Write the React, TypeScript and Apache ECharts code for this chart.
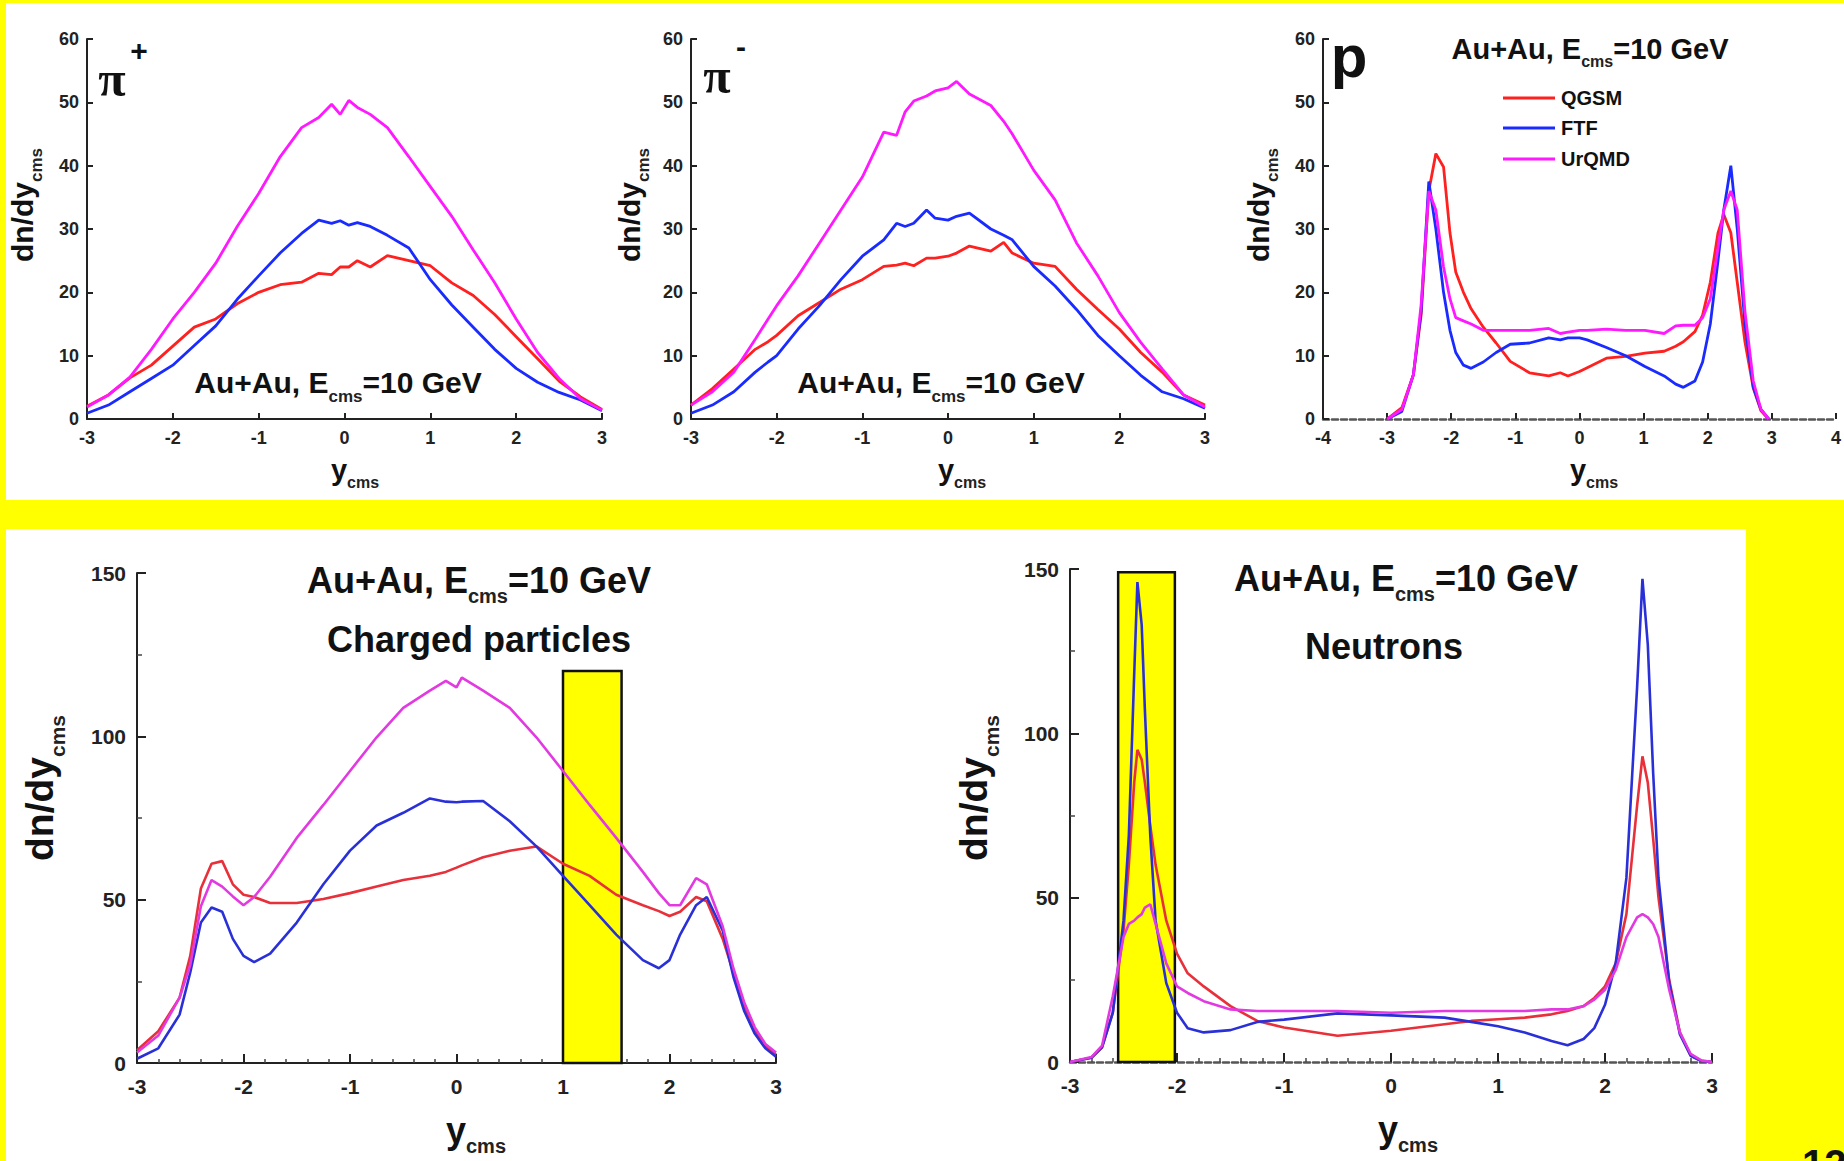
import React, { useEffect, useRef } from "react";
import * as echarts from "echarts";

const FONT = '"Liberation Sans", Arial, sans-serif';
const SERIF = '"Liberation Serif", "DejaVu Serif", serif';

const MODELS = ["QGSM", "FTF", "UrQMD"];

// Panel 1: pi+
const P1X = [-3, -2.75, -2.5, -2.25, -2, -1.75, -1.5, -1.25, -1, -0.75, -0.5, -0.3, -0.15, -0.05, 0.05, 0.15, 0.3, 0.5, 0.75, 1, 1.25, 1.5, 1.75, 2, 2.25, 2.5, 2.75, 3];
const P1_QGSM = [2, 3.8, 6.5, 8.5, 11.5, 14.5, 15.8, 18.2, 20, 21.2, 21.6, 23, 22.8, 24, 24, 25, 24, 25.8, 25, 24.2, 21.5, 19.5, 16.5, 13, 9.5, 6, 3.5, 1.5];
const P1_FTF = [0.9, 2.2, 4.3, 6.4, 8.5, 11.6, 14.7, 18.9, 22.6, 26.2, 29.3, 31.4, 30.9, 31.3, 30.6, 31, 30.4, 29, 27, 22, 18, 14.5, 11, 8, 5.8, 4.2, 3, 1.3];
const P1_URQMD = [1.9, 3.8, 6.6, 11, 15.8, 20, 24.6, 30.4, 35.6, 41.4, 46, 47.6, 49.7, 48.1, 50.3, 49.2, 48.1, 46, 41.4, 36.7, 32, 26.7, 21.5, 15.8, 10.5, 6.4, 3.2, 1.4];

// Panel 2: pi-
const P2X = [-3, -2.75, -2.5, -2.25, -2.1, -2, -1.75, -1.5, -1.25, -1, -0.75, -0.6, -0.5, -0.4, -0.25, -0.15, 0, 0.1, 0.25, 0.5, 0.65, 0.75, 1, 1.25, 1.5, 1.75, 2, 2.25, 2.5, 2.75, 3];
const P2_QGSM = [2.2, 4.8, 7.9, 11, 12.2, 13.2, 16.3, 18.4, 20.5, 22, 24.1, 24.3, 24.6, 24.2, 25.4, 25.4, 25.7, 26.2, 27.3, 26.5, 27.9, 26.2, 24.6, 24.1, 20.5, 17.3, 14.2, 10.5, 7.4, 3.8, 2.2];
const P2_FTF = [0.9, 2.2, 4.3, 7.4, 9, 10, 14.2, 17.9, 22, 25.7, 28.3, 30.9, 30.4, 30.9, 33, 31.7, 31.4, 32, 32.5, 30, 29, 28.3, 24.1, 21, 17.3, 13.2, 10, 6.9, 4.3, 3.2, 1.7];
const P2_URQMD = [2.2, 4.3, 7.4, 12.6, 15.8, 17.9, 22.6, 27.8, 33, 38.2, 45.3, 44.8, 48.5, 50.2, 51, 51.8, 52.3, 53.3, 51.3, 49.5, 47, 45, 39.3, 34.6, 27.8, 22.6, 16.8, 12.1, 7.9, 3.8, 1.9];

// Panel 3: protons
const P3X = [-3, -2.77, -2.59, -2.47, -2.35, -2.24, -2.12, -2.02, -1.93, -1.81, -1.69, -1.5, -1.3, -1.08, -0.78, -0.48, -0.3, -0.18, 0, 0.12, 0.42, 0.72, 1.02, 1.32, 1.5, 1.62, 1.8, 1.92, 2.04, 2.16, 2.25, 2.36, 2.46, 2.58, 2.71, 2.83, 2.95];
const P3_QGSM = [0, 1.8, 7, 16.4, 36, 41.9, 39.8, 29.4, 23.2, 20, 17.4, 14.5, 12, 9.1, 7.3, 6.8, 7.3, 6.8, 7.5, 8.1, 9.6, 9.9, 10.4, 10.7, 11.5, 12.2, 13.8, 16.4, 21.6, 29.4, 32.3, 29.4, 21.6, 12.2, 4.9, 1.3, 0];
const P3_FTF = [0, 1.2, 7, 17, 37.5, 30, 20, 14, 10.5, 8.5, 8, 9, 10.5, 11.8, 12, 12.8, 12.5, 12.8, 12.8, 12.5, 11.3, 10, 8.3, 6.8, 5.5, 5, 6, 9, 15, 25, 33, 40, 30, 15, 5, 1.5, 0];
const P3_URQMD = [0, 1.5, 7, 18, 36, 33, 24, 19, 16, 15.5, 15, 14, 14, 14, 14, 14.3, 13.5, 13.7, 14, 14, 14.2, 14, 14, 13.5, 14.7, 14.8, 14.8, 16, 19, 27, 33, 36, 33, 17, 6, 1.5, 0];

// Panel 4: charged particles
const B1X = [-3, -2.8, -2.6, -2.5, -2.4, -2.3, -2.2, -2.1, -2, -1.9, -1.75, -1.5, -1.25, -1, -0.75, -0.5, -0.25, -0.1, 0, 0.05, 0.25, 0.5, 0.75, 1, 1.25, 1.5, 1.75, 1.9, 2, 2.1, 2.25, 2.35, 2.5, 2.6, 2.7, 2.8, 2.9, 3];
const B1_QGSM = [3.9, 9.7, 20, 32.8, 53.4, 61, 61.8, 54.7, 51.5, 50.8, 49, 49, 50.2, 52, 54, 56, 57.3, 58.5, 59.8, 60.5, 63, 65, 66.3, 61, 57.3, 51.5, 48.3, 46.5, 45, 46.3, 50.8, 49.5, 38, 27.7, 17.4, 9.7, 5.1, 2.6];
const B1_FTF = [1.3, 4.5, 14.8, 27.7, 43, 47.6, 46.3, 38, 32.8, 30.9, 33.5, 43, 54.7, 65, 72.7, 76.6, 81, 80, 79.8, 80, 80.2, 74, 66.3, 57.3, 48.3, 39.3, 31.5, 29, 31.5, 39.3, 48.3, 50.8, 40.5, 26.4, 16, 9, 4.5, 1.9];
const B1_URQMD = [3.2, 8.4, 20, 30, 48, 56, 54, 51, 48.3, 50.8, 57, 68.9, 79, 89.4, 99.7, 108.7, 114, 117, 115, 118, 114, 108.7, 99.7, 89.4, 79, 68.9, 58.5, 52, 48.3, 48.3, 56.6, 54.7, 41.8, 29, 18.7, 11, 5.8, 3.2];
const B1_BOX = [1, 1.55, 0, 120];

// Panel 5: neutrons
const B2X = [-3, -2.8, -2.7, -2.6, -2.5, -2.45, -2.4, -2.37, -2.33, -2.3, -2.25, -2.2, -2.1, -2, -1.9, -1.75, -1.5, -1.25, -1, -0.5, 0, 0.5, 0.75, 1, 1.25, 1.5, 1.65, 1.8, 1.9, 2, 2.1, 2.2, 2.3, 2.35, 2.4, 2.45, 2.5, 2.6, 2.7, 2.8, 2.9, 3];
const B2_QGSM = [0, 1.3, 4.5, 15, 40, 60, 85, 95, 92, 85, 72, 60, 43, 33, 27, 23, 17, 12.5, 10.5, 8, 9.5, 11.5, 12.5, 13, 13.5, 14.5, 15.5, 17, 19.5, 23, 30, 45, 78, 93, 85, 68, 50, 25, 9, 2, 0.3, 0];
const B2_FTF = [0, 1.3, 4.5, 15, 43, 69, 118, 146, 133, 107, 69, 43, 24, 15, 10.3, 9, 9.7, 12.2, 12.9, 14.8, 14.2, 13.5, 12.2, 10.9, 9, 6.4, 5.1, 7, 10.3, 17.4, 30, 56, 114, 147, 127, 88, 56, 24, 8.4, 1.9, 0.3, 0];
const B2_URQMD = [0, 1.5, 5, 20, 38, 42, 43, 44, 45, 47, 48, 42, 30, 23, 21, 18.5, 16, 15.5, 15.5, 15.5, 15, 15.5, 15.5, 15.5, 15.5, 16, 16, 17, 19, 22, 28, 38, 44, 45, 44, 42, 38, 22, 9, 2.5, 0.5, 0];
const B2_BOX = [-2.55, -2.02, 0, 149];

const TOP_COLORS = ["#ff2020", "#1a2bff", "#ff19ff"];
const BOT_COLORS = ["#e8303a", "#2a30d8", "#e23ae0"];

const GRIDS = [
  { left: 87, top: 39, width: 515, height: 380 },
  { left: 691, top: 39, width: 514, height: 380 },
  { left: 1323, top: 39, width: 514, height: 380 },
  { left: 137, top: 573, width: 639, height: 490 },
  { left: 1070, top: 569, width: 642, height: 493 },
];

function pairs(xs: number[], ys: number[]) {
  return xs.map((x, i) => [x, ys[i]]);
}

function lineSeries(name: string, xs: number[], ys: number[], idx: number, color: string, width: number) {
  return {
    type: "line",
    name,
    xAxisIndex: idx,
    yAxisIndex: idx,
    data: pairs(xs, ys),
    symbol: "none",
    showSymbol: false,
    lineStyle: { color, width },
    itemStyle: { color },
    z: 3,
    silent: true,
  };
}

function boxSeries(idx: number, box: number[]) {
  return {
    type: "line",
    xAxisIndex: idx,
    yAxisIndex: idx,
    data: [],
    symbol: "none",
    z: 1,
    silent: true,
    markArea: {
      silent: true,
      itemStyle: { color: "#ffff00", borderColor: "#111", borderWidth: 2.5, opacity: 1 },
      data: [[{ coord: [box[0], box[2]] }, { coord: [box[1], box[3]] }]],
    },
  };
}

function xAxisCfg(idx: number, min: number, max: number, bottom: boolean, dashed: boolean) {
  return {
    gridIndex: idx,
    type: "value",
    min,
    max,
    interval: 1,
    axisLine: {
      show: true,
      onZero: false,
      lineStyle: { color: dashed ? "#555" : "#222", width: dashed ? 2.5 : 2, type: dashed ? [6, 3] : "solid" },
    },
    axisTick: { show: true, inside: true, length: bottom ? 9 : 6, lineStyle: { color: "#222", width: 2 } },
    minorTick: bottom ? { show: true, splitNumber: 5, length: 4, lineStyle: { color: "#444", width: 1.5 } } : { show: false },
    axisLabel: {
      fontSize: bottom ? 21 : 18,
      fontWeight: "bold",
      fontFamily: FONT,
      color: "#222",
      margin: bottom ? 13 : 10,
    },
    splitLine: { show: false },
  };
}

function yAxisCfg(idx: number, max: number, interval: number, bottom: boolean) {
  return {
    gridIndex: idx,
    type: "value",
    min: 0,
    max,
    interval,
    axisLine: { show: true, onZero: false, lineStyle: { color: "#222", width: 2 } },
    axisTick: { show: true, inside: true, length: bottom ? 9 : 6, lineStyle: { color: "#222", width: 2 } },
    minorTick: bottom ? { show: true, splitNumber: 2, length: 5, lineStyle: { color: "#444", width: 1.5 } } : { show: false },
    axisLabel: {
      fontSize: bottom ? 21 : 18,
      fontWeight: "bold",
      fontFamily: FONT,
      color: "#222",
      margin: bottom ? 11 : 8,
    },
    splitLine: { show: false },
  };
}

function richText(parts: [string, boolean][], S: number, x: number, y: number, rotation = 0) {
  const text = parts.map(([t, sub]) => `{${sub ? "s" : "m"}|${t}}`).join("");
  return {
    type: "text",
    x,
    y,
    rotation,
    z: 50,
    silent: true,
    style: {
      text,
      align: "center",
      verticalAlign: "middle",
      fill: "#111",
      rich: {
        m: {
          fontSize: S,
          fontWeight: "bold",
          fontFamily: FONT,
          fill: "#111",
          verticalAlign: "bottom",
          padding: [0, 0, Math.round(S * 0.22), 0],
        },
        s: {
          fontSize: Math.round(S * 0.55),
          fontWeight: "bold",
          fontFamily: FONT,
          fill: "#222",
          verticalAlign: "bottom",
        },
      },
    },
  };
}

function plainText(text: string, x: number, y: number, size: number, family = FONT, align = "center", vAlign = "middle") {
  return {
    type: "text",
    x,
    y,
    z: 50,
    silent: true,
    style: { text, fontSize: size, fontWeight: "bold", fontFamily: family, fill: "#111", align, verticalAlign: vAlign },
  };
}

const AUAU: [string, boolean][] = [["Au+Au, E", false], ["cms", true], ["=10 GeV", false]];
const DNDY: [string, boolean][] = [["dn/dy", false], ["cms", true]];
const YCMS: [string, boolean][] = [["y", false], ["cms", true]];

export default function App() {
  const ref = useRef<HTMLDivElement>(null);
  useEffect(() => {
    if (!ref.current) return;
    const chart = echarts.init(ref.current, null, { renderer: "svg" });
    const panels = [
      { xs: P1X, ys: [P1_QGSM, P1_FTF, P1_URQMD], colors: TOP_COLORS, w: 2.8 },
      { xs: P2X, ys: [P2_QGSM, P2_FTF, P2_URQMD], colors: TOP_COLORS, w: 2.8 },
      { xs: P3X, ys: [P3_QGSM, P3_FTF, P3_URQMD], colors: TOP_COLORS, w: 2.8 },
      { xs: B1X, ys: [B1_QGSM, B1_FTF, B1_URQMD], colors: BOT_COLORS, w: 2.6 },
      { xs: B2X, ys: [B2_QGSM, B2_FTF, B2_URQMD], colors: BOT_COLORS, w: 2.6 },
    ];
    const series: any[] = [boxSeries(3, B1_BOX), boxSeries(4, B2_BOX)];
    panels.forEach((p, idx) => {
      MODELS.forEach((m, k) => {
        series.push(lineSeries(m, p.xs, p.ys[k], idx, p.colors[k], p.w));
      });
    });

    const legendY = [98, 128, 159];
    const graphic: any[] = [
      { type: "rect", z: -100, silent: true, shape: { x: 6, y: 3, width: 1838, height: 497 }, style: { fill: "#ffffff" } },
      { type: "rect", z: -100, silent: true, shape: { x: 6, y: 529, width: 1740, height: 632 }, style: { fill: "#ffffff" } },
      // panel 1
      plainText("π", 112, 79, 50, SERIF),
      plainText("+", 139, 50, 30),
      richText(AUAU, 30, 338, 386),
      richText(DNDY, 30, 26, 205, Math.PI / 2),
      richText(YCMS, 29, 355, 473),
      // panel 2
      plainText("π", 717, 76, 50, SERIF),
      plainText("-", 741, 46, 30),
      richText(AUAU, 30, 941, 386),
      richText(DNDY, 30, 633, 205, Math.PI / 2),
      richText(YCMS, 29, 962, 473),
      // panel 3
      plainText("p", 1349, 56, 60),
      richText(AUAU, 29, 1590, 52),
      richText(DNDY, 30, 1262, 205, Math.PI / 2),
      richText(YCMS, 29, 1594, 473),
      // panel 4
      richText(AUAU, 36, 479, 584),
      plainText("Charged particles", 479, 639, 36),
      richText(DNDY, 39, 44, 788, Math.PI / 2),
      richText(YCMS, 36, 476, 1134),
      // panel 5
      richText(AUAU, 36, 1406, 582),
      plainText("Neutrons", 1384, 646, 36),
      richText(DNDY, 39, 978, 788, Math.PI / 2),
      richText(YCMS, 36, 1408, 1133),
      // page number
      plainText("12", 1802, 1144, 40, FONT, "left", "top"),
    ];
    MODELS.forEach((m, k) => {
      graphic.push({
        type: "line",
        z: 50,
        silent: true,
        shape: { x1: 1503, y1: legendY[k], x2: 1555, y2: legendY[k] },
        style: { stroke: TOP_COLORS[k], lineWidth: 3 },
      });
      graphic.push(plainText(m, 1561, legendY[k], 20, FONT, "left", "middle"));
    });

    const option: any = {
      animation: false,
      backgroundColor: "#ffff00",
      grid: GRIDS.map((g) => ({ ...g, containLabel: false })),
      xAxis: [
        xAxisCfg(0, -3, 3, false, false),
        xAxisCfg(1, -3, 3, false, false),
        xAxisCfg(2, -4, 4, false, true),
        xAxisCfg(3, -3, 3, true, false),
        xAxisCfg(4, -3, 3, true, true),
      ],
      yAxis: [
        yAxisCfg(0, 60, 10, false),
        yAxisCfg(1, 60, 10, false),
        yAxisCfg(2, 60, 10, false),
        yAxisCfg(3, 150, 50, true),
        yAxisCfg(4, 150, 50, true),
      ],
      series,
      graphic,
    };
    chart.setOption(option);
    return () => chart.dispose();
  }, []);
  return <div ref={ref} style={{ position: "fixed", left: 0, top: 0, width: 1844, height: 1161 }} />;
}
